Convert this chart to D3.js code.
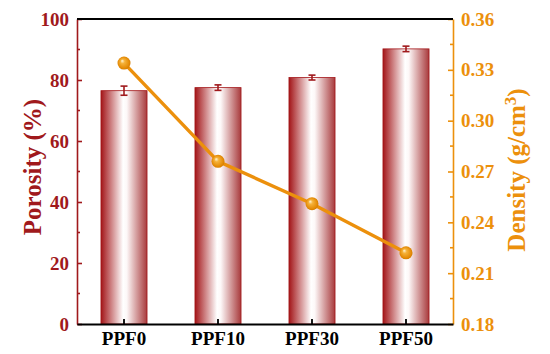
<!DOCTYPE html>
<html>
<head>
<meta charset="utf-8">
<script src="https://cdn.jsdelivr.net/npm/d3@7"></script>
<style>
  body { margin: 0; background: #fff; }
  text { font-family: "Liberation Serif", "Times New Roman", serif; font-weight: bold; }
</style>
</head>
<body>
<div id="main"></div>
<script>
const samples = ["PPF0", "PPF10", "PPF30", "PPF50"];
const porosity = [76.5, 77.5, 80.8, 90.2];
const porosityErr = [1.5, 0.9, 0.8, 0.9];
const density = [0.334, 0.276, 0.251, 0.222];
const porosityTicks = [0, 20, 40, 60, 80, 100];
const densityTicks = [0.18, 0.21, 0.24, 0.27, 0.30, 0.33, 0.36];

const ctx = {
  W: 550, H: 354,
  left: 77, right: 453, top: 19, bottom: 324,
  red: "#A0191C", orange: "#EC900C"
};

function createViz() {
  const svg = d3.select("#main").append("svg")
    .attr("width", ctx.W).attr("height", ctx.H);

  const defs = svg.append("defs");
  const grad = defs.append("linearGradient").attr("id", "barGrad")
    .attr("x1", "0%").attr("x2", "100%").attr("y1", "0%").attr("y2", "0%");
  grad.append("stop").attr("offset", "0%").attr("stop-color", "#A31518");
  grad.append("stop").attr("offset", "48%").attr("stop-color", "#ffffff");
  grad.append("stop").attr("offset", "56%").attr("stop-color", "#fdf8f8");
  grad.append("stop").attr("offset", "100%").attr("stop-color", "#A83A3C");

  const ball = defs.append("radialGradient").attr("id", "ballGrad")
    .attr("cx", "50%").attr("cy", "50%").attr("r", "55%")
    .attr("fx", "35%").attr("fy", "32%");
  ball.append("stop").attr("offset", "0%").attr("stop-color", "#fff6d8");
  ball.append("stop").attr("offset", "30%").attr("stop-color", "#F5B23A");
  ball.append("stop").attr("offset", "80%").attr("stop-color", "#E48A05");
  ball.append("stop").attr("offset", "100%").attr("stop-color", "#C97400");

  const x = d3.scaleBand().domain(samples)
    .range([ctx.left, ctx.right]).paddingInner(0.51).paddingOuter(0.255);
  const yP = d3.scaleLinear().domain([0, 100]).range([ctx.bottom, ctx.top]);
  const yD = d3.scaleLinear().domain([0.18, 0.36]).range([ctx.bottom, ctx.top]);

  // bars
  svg.selectAll(".bar").data(samples).enter().append("rect")
    .attr("class", "bar")
    .attr("x", d => x(d))
    .attr("width", x.bandwidth())
    .attr("y", (d, i) => yP(porosity[i]))
    .attr("height", (d, i) => yP(0) - yP(porosity[i]))
    .attr("fill", "url(#barGrad)")
    .attr("stroke", "#A31518").attr("stroke-width", 0.8);

  // error bars
  const eb = svg.selectAll(".err").data(samples).enter().append("g")
    .attr("class", "err")
    .attr("stroke", ctx.red).attr("stroke-width", 1.6);
  const cx = d => x(d) + x.bandwidth() / 2;
  eb.append("line")
    .attr("x1", cx).attr("x2", cx)
    .attr("y1", (d, i) => yP(porosity[i] + porosityErr[i]))
    .attr("y2", (d, i) => yP(porosity[i] - porosityErr[i]));
  [1, -1].forEach(s => {
    eb.append("line")
      .attr("x1", d => cx(d) - 3.5).attr("x2", d => cx(d) + 3.5)
      .attr("y1", (d, i) => yP(porosity[i] + s * porosityErr[i]))
      .attr("y2", (d, i) => yP(porosity[i] + s * porosityErr[i]));
  });

  // density line
  const line = d3.line().x((d, i) => cx(samples[i])).y(d => yD(d));
  svg.append("path").datum(density)
    .attr("d", line).attr("fill", "none")
    .attr("stroke", ctx.orange).attr("stroke-width", 3.4);
  svg.selectAll(".dot").data(density).enter().append("circle")
    .attr("cx", (d, i) => cx(samples[i])).attr("cy", d => yD(d))
    .attr("r", 6.5).attr("fill", "url(#ballGrad)");

  // left axis
  const gL = svg.append("g").attr("transform", `translate(${ctx.left},0)`);
  gL.call(d3.axisLeft(yP).tickValues(porosityTicks).tickSizeInner(-5).tickSizeOuter(0).tickPadding(8))
  gL.selectAll("path, line").attr("stroke", ctx.red).attr("stroke-width", 1.6);
  gL.selectAll("text").attr("fill", ctx.red).style("font-size", "19px")
    .style("font-family", '"Liberation Serif", serif').style("font-weight", "bold");
  gL.selectAll(".minor").data(d3.range(10, 100, 20)).enter().append("line")
    .attr("x1", 0).attr("x2", 3).attr("y1", d => yP(d)).attr("y2", d => yP(d))
    .attr("stroke", ctx.red).attr("stroke-width", 1.6);

  // right axis
  const gR = svg.append("g").attr("transform", `translate(${ctx.right},0)`);
  gR.call(d3.axisRight(yD).tickValues(densityTicks).tickFormat(d3.format(".2f"))
    .tickSizeInner(-5).tickSizeOuter(0).tickPadding(8));
  gR.selectAll("path, line").attr("stroke", ctx.orange).attr("stroke-width", 1.6);
  gR.selectAll("text").attr("fill", ctx.orange).style("font-size", "19px")
    .style("font-family", '"Liberation Serif", serif').style("font-weight", "bold");
  gR.selectAll(".minor").data(d3.range(0.195, 0.36, 0.03)).enter().append("line")
    .attr("x1", 0).attr("x2", -3).attr("y1", d => yD(d)).attr("y2", d => yD(d))
    .attr("stroke", ctx.orange).attr("stroke-width", 1.6);

  // bottom axis
  const gB = svg.append("g").attr("transform", `translate(0,${ctx.bottom})`);
  gB.call(d3.axisBottom(x).tickSizeInner(-5).tickSizeOuter(0).tickPadding(8));
  gB.selectAll("path, line").attr("stroke", "#000").attr("stroke-width", 1.8);
  gB.selectAll("text").attr("fill", "#000").style("font-size", "19px")
    .style("font-family", '"Liberation Serif", serif').style("font-weight", "bold");

  // top border
  svg.append("line")
    .attr("x1", ctx.left).attr("x2", ctx.right)
    .attr("y1", ctx.top).attr("y2", ctx.top)
    .attr("stroke", "#000").attr("stroke-width", 1.8);

  // axis titles
  svg.append("text")
    .attr("transform", "translate(41,167) rotate(-90)")
    .attr("text-anchor", "middle").attr("fill", ctx.red)
    .style("font-size", "25px")
    .text("Porosity (%)");
  const dt = svg.append("text")
    .attr("transform", "translate(525,170) rotate(-90)")
    .attr("text-anchor", "middle").attr("fill", ctx.orange)
    .style("font-size", "25px");
  dt.append("tspan").text("Density (g/cm");
  dt.append("tspan").attr("dy", -9).style("font-size", "17px").text("3");
  dt.append("tspan").attr("dy", 9).text(")");
}

createViz();
</script>
</body>
</html>
